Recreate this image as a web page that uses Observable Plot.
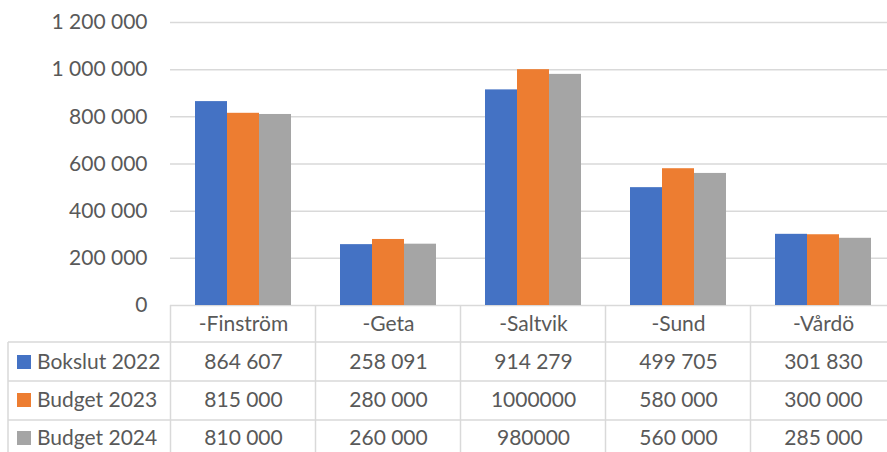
<!DOCTYPE html>
<html><head><meta charset="utf-8">
<script src="https://cdn.jsdelivr.net/npm/d3@7"></script>
<script src="https://cdn.jsdelivr.net/npm/@observablehq/plot@0.6"></script>
<style>html,body{margin:0;padding:0;background:#fff;overflow:hidden;width:887px;height:452px}svg{max-width:none!important}</style>
</head><body><div id="chart"></div>
<script>
const categories = ["-Finström", "-Geta", "-Saltvik", "-Sund", "-Vårdö"];
const seriesNames = ["Bokslut 2022", "Budget 2023", "Budget 2024"];
const bokslut2022 = [864607, 258091, 914279, 499705, 301830];
const budget2023 = [815000, 280000, 1000000, 580000, 300000];
const budget2024 = [810000, 260000, 980000, 560000, 285000];
const bokslut2022Labels = ["864 607", "258 091", "914 279", "499 705", "301 830"];
const budget2023Labels = ["815 000", "280 000", "1000000", "580 000", "300 000"];
const budget2024Labels = ["810 000", "260 000", "980000", "560 000", "285 000"];
const yTicks = [0, 200000, 400000, 600000, 800000, 1000000, 1200000];
const colors = ["#4472C4", "#ED7D31", "#A5A5A5"];

const seriesValues = [bokslut2022, budget2023, budget2024];
const seriesLabels = [bokslut2022Labels, budget2023Labels, budget2024Labels];
const rows = [];
seriesNames.forEach((s, i) => categories.forEach((c, j) => rows.push({series: s, si: i, category: c, value: seriesValues[i][j], label: seriesLabels[i][j]})));

const fmt = d3.formatLocale({decimal: ",", thousands: " ", grouping: [3], currency: ["", ""]}).format(",d");
const textColor = "#595959";
const gridColor = "#d9d9d9";
const barW = 32;
const headDy = 19;
const rowDy = [57, 95, 133];

const chart = Plot.plot({
  width: 895, height: 452,
  marginLeft: 170, marginRight: 0, marginTop: 22, marginBottom: 147,
  style: {fontFamily: "Lato, sans-serif", fontSize: "21px", color: textColor, background: "#fff", overflow: "visible", maxWidth: "none"},
  x: {domain: categories, paddingInner: 0.338, paddingOuter: 0.169, axis: null},
  y: {domain: [0, 1200000]},
  marks: [
    Plot.ruleY(yTicks, {stroke: gridColor, strokeWidth: 1.5}),
    ...seriesNames.map((s, i) => Plot.barY(rows.filter(r => r.si === i), {
      x: "category", y: "value", fill: colors[i],
      insetLeft: i * barW, insetRight: (2 - i) * barW
    })),
    Plot.axisY(yTicks, {tickSize: 0, tickPadding: 23, tickFormat: fmt, label: null, fill: textColor}),
    Plot.text(categories, {x: d => d, frameAnchor: "bottom", lineAnchor: "middle", dy: headDy, fill: textColor}),
    ...seriesNames.map((s, i) => Plot.text(rows.filter(r => r.si === i), {
      x: "category", text: "label", frameAnchor: "bottom", lineAnchor: "middle", dy: rowDy[i], fill: textColor
    }))
  ]
});
document.getElementById("chart").appendChild(chart);

// data table grid and legend keys, positioned from the x scale
const xs = chart.scale("x");
const gap = xs.step - xs.bandwidth;
const bounds = categories.map(c => xs.apply(c) - gap / 2);
bounds.push(xs.apply(categories[categories.length - 1]) + xs.bandwidth + gap / 2);
const svg = d3.select(chart.tagName.toLowerCase() === "svg" ? chart : chart.querySelector("svg"));
svg.style("max-width", "none");
const y0 = 305, rowH = 39, headH = 37, leftX = 8;
const g = svg.append("g").attr("stroke", gridColor).attr("stroke-width", 1.5);
const lineYs = [y0 + headH, y0 + headH + rowH, y0 + headH + 2 * rowH];
lineYs.forEach(yy => g.append("line").attr("x1", leftX).attr("x2", bounds[bounds.length - 1]).attr("y1", yy).attr("y2", yy));
bounds.forEach(bx => g.append("line").attr("x1", bx).attr("x2", bx).attr("y1", y0).attr("y2", 460));
g.append("line").attr("x1", leftX).attr("x2", leftX).attr("y1", y0 + headH).attr("y2", 460);
const lg = svg.append("g").attr("font-family", "Lato, sans-serif").attr("font-size", 21).attr("fill", textColor).attr("text-anchor", "start");
seriesNames.forEach((s, i) => {
  const cy = y0 + rowDy[i];
  lg.append("rect").attr("x", 17).attr("y", cy - 7).attr("width", 14).attr("height", 14).attr("fill", colors[i]);
  lg.append("text").attr("x", 37).attr("y", cy).attr("dy", "0.35em").text(s);
});
</script></body></html>
